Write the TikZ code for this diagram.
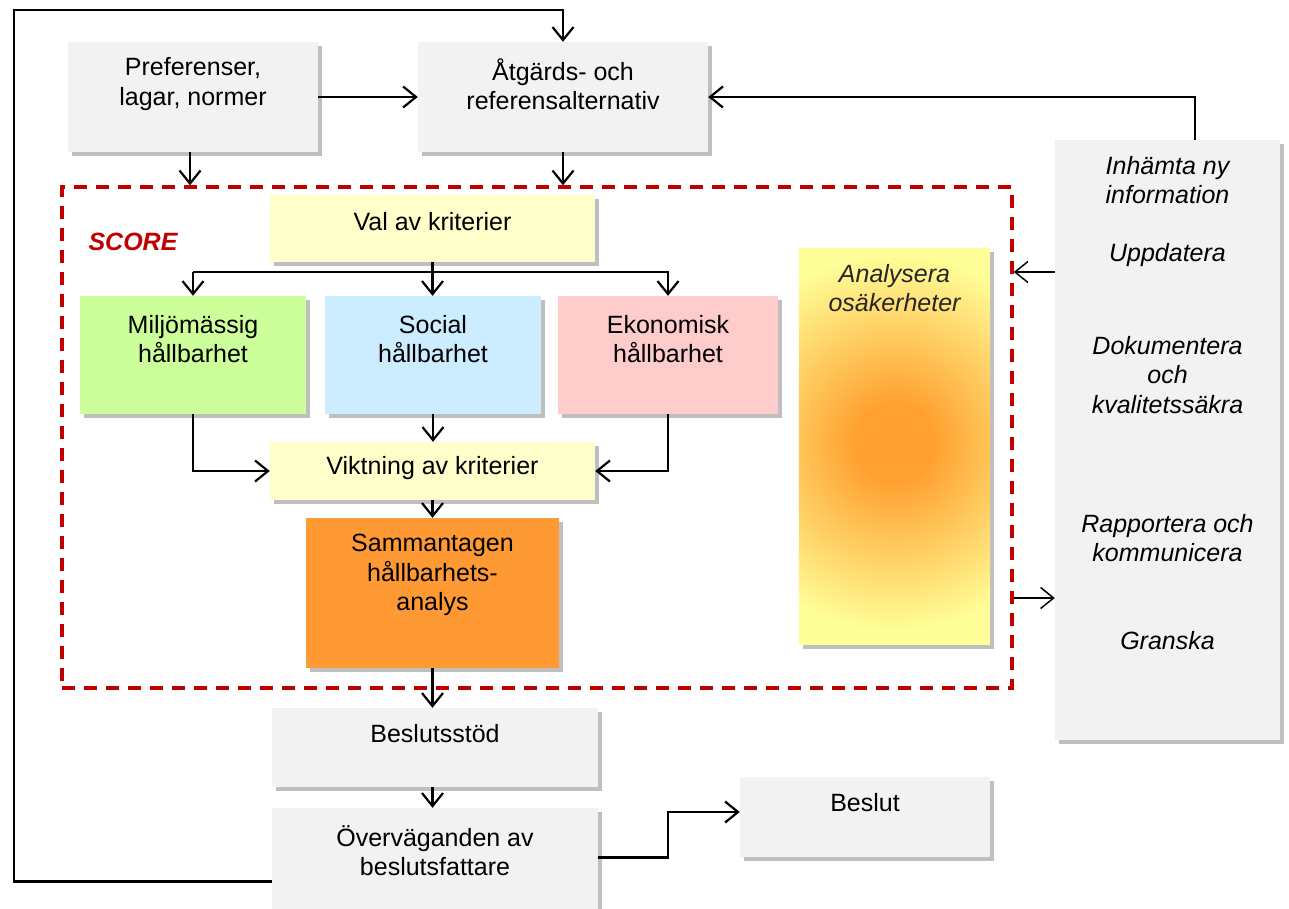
\documentclass[tikz,border=0pt]{standalone}
\usepackage{fontspec}
\setmainfont{Liberation Sans}
\usetikzlibrary{arrows.meta,shadows}
\definecolor{boxgray}{HTML}{F2F2F2}
\definecolor{crityellow}{HTML}{FFFFCC}
\definecolor{envgreen}{HTML}{CCFF99}
\definecolor{socblue}{HTML}{CCECFF}
\definecolor{ecopink}{HTML}{FFCCCC}
\definecolor{sumorange}{HTML}{FF9933}
\definecolor{scorered}{HTML}{C00000}
\definecolor{uorange}{HTML}{FFA030}
\definecolor{uyellow}{HTML}{FFFF99}
\pgfdeclareradialshading{uncert}{\pgfpoint{0bp}{0bp}}{color(0bp)=(uorange); color(5bp)=(uorange); color(25bp)=(uyellow); color(50bp)=(uyellow)}
\tikzstyle{procbox}=[inner sep=0pt,drop shadow={shadow xshift=4pt,shadow yshift=-4pt,fill=black,opacity=0.25}]
\tikzstyle{graybox}=[procbox,fill=boxgray]
\tikzstyle{txt}=[font=\fontsize{25}{29.5}\selectfont,align=center,inner sep=0pt]
\tikzstyle{itxt}=[txt,font=\fontsize{25}{29.5}\selectfont\itshape]
\tikzstyle{conn}=[line width=2.2pt,-{Straight Barb[length=13pt,width=21pt]}]
\tikzstyle{thinconn}=[conn,line width=1.5pt]

\begin{document}
\begin{tikzpicture}[x=1pt,y=-1pt]
\useasboundingbox (0,0) rectangle (1289,908);
% top row
\node[graybox,minimum width=250,minimum height=110] (pref) at (193,97) {};
\node[txt] (pref-t) at ([yshift=13pt]pref.center) {Preferenser,\\lagar, normer};
\node[graybox,minimum width=290,minimum height=110] (atg) at (563,97) {};
\node[txt] (atg-t) at ([yshift=13pt]atg.center) {Åtgärds- och\\referensalternativ};
% SCORE frame
\node[draw=scorered,line width=3.5pt,dash pattern=on 13pt off 9pt,minimum width=950,minimum height=501,inner sep=0pt] (score) at (537,437.5) {};
\node[txt,font=\fontsize{25}{29.5}\selectfont\bfseries\itshape,text=scorered] (score-t) at (133,242) {SCORE};
\node[procbox,fill=crityellow,minimum width=325,minimum height=67] (val) at (432.5,228.5) {};
\node[txt] (val-t) at ([yshift=7pt]val.center) {Val av kriterier};
\node[procbox,fill=envgreen,minimum width=226,minimum height=118] (miljo) at (193,355) {};
\node[txt] (miljo-t) at ([yshift=16pt]miljo.center) {Miljömässig\\hållbarhet};
\node[procbox,fill=socblue,minimum width=216,minimum height=118] (soc) at (433,355) {};
\node[txt] (soc-t) at ([yshift=16pt]soc.center) {Social\\hållbarhet};
\node[procbox,fill=ecopink,minimum width=220,minimum height=118] (ekon) at (668,355) {};
\node[txt] (ekon-t) at ([yshift=16pt]ekon.center) {Ekonomisk\\hållbarhet};
\node[procbox,fill=crityellow,minimum width=325,minimum height=58] (vikt) at (432.5,471) {};
\node[txt] (vikt-t) at ([yshift=3pt]vikt.center) {Viktning av kriterier};
\node[procbox,fill=sumorange,minimum width=253,minimum height=150] (samm) at (432.5,593) {};
\node[txt] (samm-t) at ([yshift=18pt]samm.center) {Sammantagen\\hållbarhets-\\analys};
% uncertainty box with round glow
\node[procbox,fill=uyellow,minimum width=191,minimum height=397] (osak) at (894.5,446.5) {};
\begin{scope}
  \clip (osak.south west) rectangle (osak.north east);
  \shade[shading=uncert] ([yshift=4pt]osak.center) circle (190);
\end{scope}
\node[itxt,text=black!85] (osak-t) at (894.5,288) {Analysera\\osäkerheter};
% side box
\node[graybox,minimum width=225,minimum height=600] (info) at (1167.5,440) {};
\foreach \y/\t [count=\i] in {180/{Inhämta ny\\information},255/Uppdatera,375/{Dokumentera\\och\\kvalitetssäkra},538/{Rapportera och\\kommunicera},641/Granska}
  \node[itxt] (info-\i) at (1167.5,\y) {\t};
% bottom
\node[graybox,minimum width=326,minimum height=79] (stod) at (435,747.5) {};
\node[txt] (stod-t) at ([yshift=14pt]stod.center) {Beslutsstöd};
\node[graybox,minimum width=326,minimum height=107] (overv) at (435,861.5) {};
\node[txt] (overv-t) at ([yshift=11pt]overv.center) {Överväganden av\\beslutsfattare};
\node[graybox,minimum width=250,minimum height=80] (beslut) at (865,817) {};
\node[txt] (beslut-t) at ([yshift=14pt]beslut.center) {Beslut};
% connectors
\draw[conn] ([yshift=-20pt]overv.west) -| (14,10) -| (atg.north);
\draw[conn] (pref.east) -- (atg.west);
\draw[conn] ([xshift=27.5pt]info.north) |- (atg.east);
\draw[conn] ([xshift=-3pt]pref.south) -- ([xshift=-3pt]pref.south |- score.north);
\draw[conn] (atg.south) -- (atg.south |- score.north);
\coordinate (split) at (val.south |- 0,272);
\draw[conn] (val.south) -- (val.south |- soc.north);
\draw[conn] (split -| miljo) -- (miljo.north);
\draw[conn] (split -| miljo) -- (split -| ekon) -- (ekon.north);
\draw[conn] (miljo.south) |- (vikt.west);
\draw[conn] (ekon.south) |- (vikt.east);
\draw[conn] (soc.south) -- (soc.south |- vikt.north);
\draw[conn] (vikt.south) -- (samm.north);
\draw[conn] (samm.south) -- (samm.south |- stod.north);
\draw[conn] (samm.south |- stod.south) -- (samm.south |- overv.north);
\draw[conn] ([yshift=4pt]overv.east) -- ++(70,0) |- ([yshift=5pt]beslut.west);
\draw[thinconn] (info.west |- 0,272) -- (score.east |- 0,272);
\draw[thinconn] (score.east |- 0,598) -- (info.west |- 0,598);
\end{tikzpicture}
\end{document}
